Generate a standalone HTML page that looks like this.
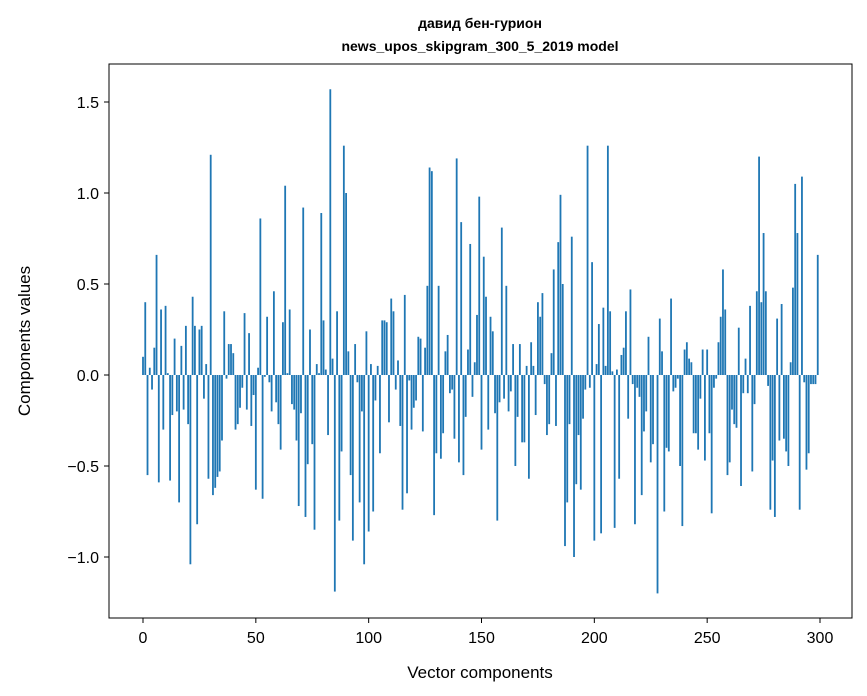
<!DOCTYPE html>
<html><head><meta charset="utf-8"><style>
body{margin:0;background:#fff;}
svg{display:block;font-family:"Liberation Sans","DejaVu Sans",sans-serif;}
</style></head><body>
<svg id="chart" width="867" height="696" viewBox="0 0 867 696" xmlns="http://www.w3.org/2000/svg">
<rect width="867" height="696" fill="#fff"/>
<text x="480" y="28" text-anchor="middle" font-size="14" font-weight="bold">давид бен-гурион</text>
<text x="480" y="51" text-anchor="middle" font-size="14" font-weight="bold">news_upos_skipgram_300_5_2019 model</text>
<g id="bars"></g>
<rect x="109" y="64" width="743" height="554" fill="none" stroke="#000" stroke-width="1"/>
<g id="xticks"></g>
<g id="yticks"></g>
<text x="480" y="678" text-anchor="middle" font-size="17">Vector components</text>
<text transform="translate(30,341) rotate(-90)" text-anchor="middle" font-size="17">Components values</text>
</svg>
<script>
const values = [0.10,0.40,-0.55,0.04,-0.08,0.15,0.66,-0.59,0.36,-0.30,0.38,0.01,-0.58,
-0.22,0.20,-0.20,-0.70,0.16,-0.19,0.27,-0.27,-1.04,0.43,0.27,-0.82,0.25,0.27,-0.13,0.06,-0.57,1.21,-0.66,-0.62,-0.56,-0.53,-0.36,0.35,-0.02,0.17,0.17,0.12,-0.30,-0.27,-0.18,-0.07,0.34,-0.19,0.23,-0.28,-0.11,-0.63,
0.04,0.86,-0.68,-0.01,0.32,-0.04,-0.20,0.46,-0.15,-0.27,-0.41,0.29,1.04,0.01,0.36,-0.16,-0.19,-0.36,-0.72,-0.21,0.92,-0.78,-0.49,0.25,-0.38,-0.85,0.06,0.01,0.89,0.30,0.03,-0.33,1.57,0.09,-1.19,0.35,-0.80,-0.42,1.26,1.00,0.13,-0.55,-0.91,0.17,-0.04,-0.70,-0.20,-1.04,0.24,-0.86,
0.06,-0.75,-0.14,0.05,-0.43,0.30,0.30,0.29,-0.26,0.42,0.35,-0.08,0.08,-0.28,-0.74,0.44,-0.65,-0.03,-0.30,-0.18,-0.14,0.21,0.20,-0.31,0.15,0.49,1.14,1.12,-0.77,-0.43,0.49,-0.46,-0.32,0.13,0.22,-0.10,-0.08,-0.35,1.19,-0.48,0.84,-0.55,-0.23,0.14,0.72,-0.12,0.07,0.33,0.98,-0.41,
0.65,0.43,-0.30,0.32,0.24,-0.21,-0.80,-0.15,0.81,-0.13,0.49,-0.20,-0.09,0.17,-0.50,-0.23,0.17,-0.37,-0.37,0.05,-0.57,0.18,0.05,-0.22,0.40,0.32,0.45,-0.05,-0.33,-0.27,0.12,0.58,-0.28,0.73,0.99,0.50,-0.94,-0.70,-0.27,0.76,-1.00,-0.60,-0.33,-0.63,-0.24,-0.08,1.26,-0.07,0.62,-0.91,
0.06,0.28,-0.87,0.37,0.05,1.26,0.35,0.02,-0.84,0.03,-0.57,0.11,0.15,0.35,-0.24,0.47,-0.05,-0.82,-0.07,-0.12,-0.66,-0.31,-0.20,0.21,-0.48,-0.38,0.00,-1.20,0.31,0.13,-0.75,-0.40,-0.42,0.42,-0.09,-0.07,-0.02,-0.50,-0.83,0.14,0.18,0.09,0.07,-0.32,-0.32,-0.41,-0.13,0.14,-0.47,0.14,
-0.32,-0.76,-0.07,-0.02,0.18,0.32,0.58,0.36,-0.55,-0.48,-0.19,-0.27,-0.29,0.26,-0.61,-0.10,0.09,-0.10,0.38,-0.53,-0.16,0.46,1.20,0.40,0.78,0.46,-0.06,-0.74,-0.47,-0.78,0.31,-0.36,0.39,-0.35,-0.42,-0.50,0.07,0.48,1.05,0.78,-0.74,1.09,-0.04,-0.52,-0.43,-0.05,-0.05,-0.05,0.66];
const xTicks = [0,50,100,150,200,250,300];
const yTicks = [-1.0,-0.5,0.0,0.5,1.0,1.5];
const NS="http://www.w3.org/2000/svg";
function xs(v){return 143+v*(677/300);}
function ys(v){return 375-v*182;}
const bars=document.getElementById('bars');
const bw=0.8*677/300;
values.forEach((v,i)=>{
  const r=document.createElementNS(NS,'rect');
  
  
  const y0=ys(0), y1=ys(v);
  r.setAttribute('x',xs(i)-bw/2);
  r.setAttribute('width',bw);
  r.setAttribute('y',Math.min(y0,y1));
  r.setAttribute('height',Math.max(Math.abs(y1-y0),0.01));
  r.setAttribute('fill','#1f77b4');
  bars.appendChild(r);
});
const xg=document.getElementById('xticks');
xTicks.forEach(t=>{
  const l=document.createElementNS(NS,'line');
  
  
  l.setAttribute('x1',xs(t));l.setAttribute('x2',xs(t));
  l.setAttribute('y1',618);l.setAttribute('y2',623);
  l.setAttribute('stroke','#000');
  xg.appendChild(l);
  const tx=document.createElementNS(NS,'text');
  
  
  tx.setAttribute('x',xs(t));tx.setAttribute('y',643);
  tx.setAttribute('text-anchor','middle');tx.setAttribute('font-size','16');
  tx.textContent=String(t);
  xg.appendChild(tx);
});
const yg=document.getElementById('yticks');
yTicks.forEach(t=>{
  const l=document.createElementNS(NS,'line');
  
  
  l.setAttribute('x1',104);l.setAttribute('x2',109);
  l.setAttribute('y1',ys(t));l.setAttribute('y2',ys(t));
  l.setAttribute('stroke','#000');
  yg.appendChild(l);
  const tx=document.createElementNS(NS,'text');
  
  
  tx.setAttribute('x',99);tx.setAttribute('y',ys(t)+6);
  tx.setAttribute('text-anchor','end');tx.setAttribute('font-size','16');
  tx.textContent=(t<0?'\u2212':'')+Math.abs(t).toFixed(1);
  yg.appendChild(tx);
});
</script>
</body></html>
